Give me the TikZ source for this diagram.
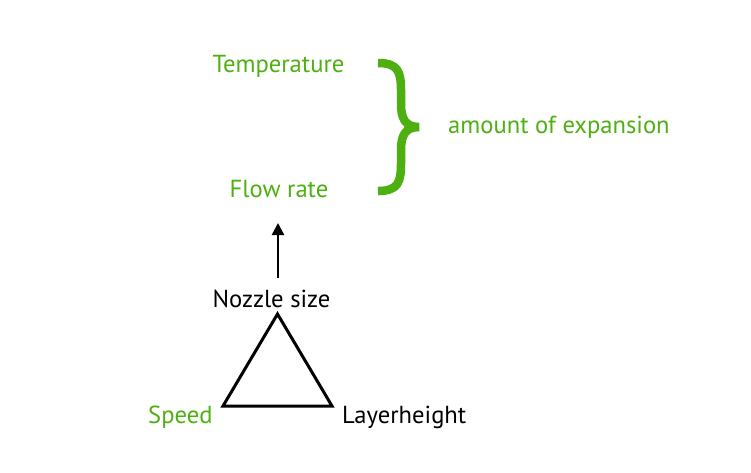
\documentclass[tikz,border=0pt]{standalone}
\usepackage{fontspec}
\setmainfont{PT Sans}
\usetikzlibrary{arrows.meta}
\definecolor{lgreen}{RGB}{78,176,16}
\tikzset{
  lbl/.style={font=\fontsize{24.6}{28}\selectfont, anchor=base, inner sep=0pt},
  glbl/.style={lbl, text=lgreen},
}
\begin{document}
\begin{tikzpicture}[x=1pt,y=-1pt]
\useasboundingbox (0,0) rectangle (751,472);
\node[glbl] (temp) at (278.5,72) {Temperature};
\node[glbl] (flow) at (279,197) {Flow rate};
\node[glbl, anchor=base west] (amount) at (448,133) {amount of expansion};
\node[lbl] (nozzle) at (271.5,307) {Nozzle size};
\node[glbl, anchor=base west] (speed) at (148,423) {Speed};
\node[lbl, anchor=base west] (layer) at (342,423) {Layerheight};
\coordinate (arrtail) at (278,278);
\coordinate (arrtip) at (278,223);
\draw[line width=2.4pt, -{Triangle[length=12pt,width=12pt]}] (arrtail) -- (arrtip);
\coordinate (ttop) at (277.5,314);
\coordinate (tbl) at (223,406);
\coordinate (tbr) at (332,406);
\draw[line width=3pt, line join=miter] (ttop) -- (tbl) -- (tbr) -- cycle;
\draw[lgreen, line width=8.5pt]
  (378,63) .. controls (398,63) and (401,72) .. (401,90)
  -- (401,104) .. controls (401,118) and (405,127) .. (419,127)
  .. controls (405,127) and (401,136) .. (401,150)
  -- (401,164) .. controls (401,182) and (398,191) .. (378,191);
\end{tikzpicture}
\end{document}
